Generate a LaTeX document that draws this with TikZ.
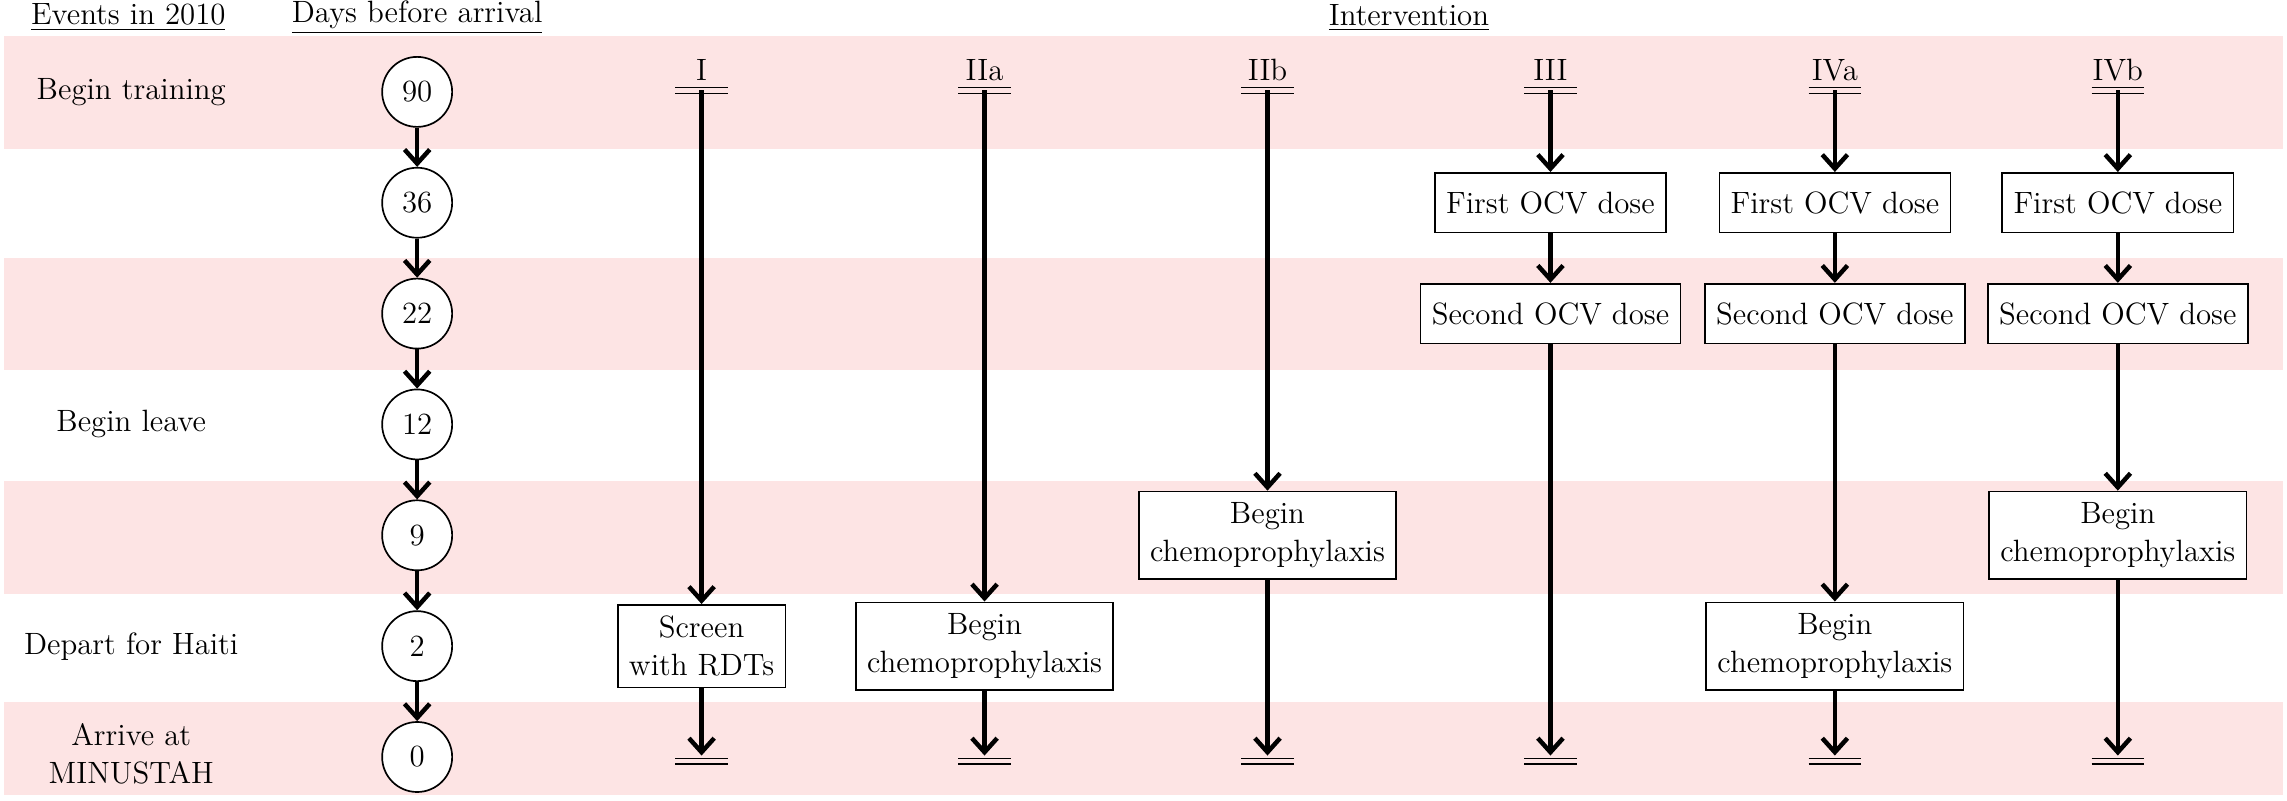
\documentclass[tikz,border=0pt]{standalone}
\usetikzlibrary{arrows.meta,calc}
\definecolor{bandpink}{RGB}{253,228,228}
\tikzset{
    every node/.style={font=\fontsize{11}{13.5}\selectfont},
    action/.style={draw, line width=0.6pt, minimum height=41*0.0183cm, inner sep=4pt, fill=white, align=center},
    day/.style={draw, circle, line width=0.6pt, minimum size=48*0.0183cm, inner sep=0pt, fill=white},
    flow/.style={-{Straight Barb[length=5pt,width=9pt,line width=1.6pt]}, line width=1.6pt},
}
\newcommand{\startbar}[1]{\draw[line width=0.6pt] ($(#1)+(-18,-2)$) -- ($(#1)+(18,-2)$) ($(#1)+(-18,2)$) -- ($(#1)+(18,2)$);}
\begin{document}
\begin{tikzpicture}[x=0.0183cm, y=-0.0183cm]
    \useasboundingbox (0,0) rectangle (1568,548.5);
    % bands
    \foreach \yb in {25,177,330} \fill[bandpink] (3,\yb) rectangle (1565,\yb+77);
    \fill[bandpink] (3,481) rectangle (1565,545);

    % headers
    \node (hEvents) at (88,12) {\underline{Events in 2010}};
    \node (hDays) at (286,12) {\underline{Days before arrival}};
    \node (hInt) at (966,12) {\underline{Intervention}};

    % events
    \node (eTrain) at (90,63) {Begin training};
    \node (eLeave) at (90,291) {Begin leave};
    \node (eDepart) at (90,443) {Depart for Haiti};
    \node[align=center] (eArrive) at (90,517) {Arrive at\\MINUSTAH};

    % days
    \node[day] (d90) at (286,63) {90};
    \node[day] (d36) at (286,139) {36};
    \node[day] (d22) at (286,215) {22};
    \node[day] (d12) at (286,291) {12};
    \node[day] (d9) at (286,367) {9};
    \node[day] (d2) at (286,443) {2};
    \node[day] (d0) at (286,519) {0};
    \foreach \a/\b in {d90/d36, d36/d22, d22/d12, d12/d9, d9/d2, d2/d0}
        \draw[flow] (\a) -- (\b);

    % interventions
    \foreach \n/\lab/\x in {I/I/481, IIa/IIa/675, IIb/IIb/869, III/III/1063, IVa/IVa/1258, IVb/IVb/1452}{
        \node (l\n) at (\x,48) {\lab};
        \coordinate (s\n) at (\x,62);
        \coordinate (e\n) at (\x,518);
        \startbar{s\n}
        \draw[line width=0.6pt] (\x-18,520) -- (\x+18,520) (\x-18,524) -- (\x+18,524);
    }
    \node[action] (screenI) at (481,443) {Screen\\with RDTs};
    \node[action] (chemoIIa) at (675,443) {Begin\\chemoprophylaxis};
    \node[action] (chemoIIb) at (869,367) {Begin\\chemoprophylaxis};
    \node[action] (firstIII) at (1063,139) {First OCV dose};
    \node[action] (secondIII) at (1063,215) {Second OCV dose};
    \node[action] (firstIVa) at (1258,139) {First OCV dose};
    \node[action] (secondIVa) at (1258,215) {Second OCV dose};
    \node[action] (chemoIVa) at (1258,443) {Begin\\chemoprophylaxis};
    \node[action] (firstIVb) at (1452,139) {First OCV dose};
    \node[action] (secondIVb) at (1452,215) {Second OCV dose};
    \node[action] (chemoIVb) at (1452,367) {Begin\\chemoprophylaxis};

    \draw[flow] (sI) -- (screenI);
    \draw[flow] (screenI) -- (eI);
    \draw[flow] (sIIa) -- (chemoIIa);
    \draw[flow] (chemoIIa) -- (eIIa);
    \draw[flow] (sIIb) -- (chemoIIb);
    \draw[flow] (chemoIIb) -- (eIIb);
    \draw[flow] (sIII) -- (firstIII);
    \draw[flow] (firstIII) -- (secondIII);
    \draw[flow] (secondIII) -- (eIII);
    \draw[flow] (sIVa) -- (firstIVa);
    \draw[flow] (firstIVa) -- (secondIVa);
    \draw[flow] (secondIVa) -- (chemoIVa);
    \draw[flow] (chemoIVa) -- (eIVa);
    \draw[flow] (sIVb) -- (firstIVb);
    \draw[flow] (firstIVb) -- (secondIVb);
    \draw[flow] (secondIVb) -- (chemoIVb);
    \draw[flow] (chemoIVb) -- (eIVb);
\end{tikzpicture}
\end{document}
